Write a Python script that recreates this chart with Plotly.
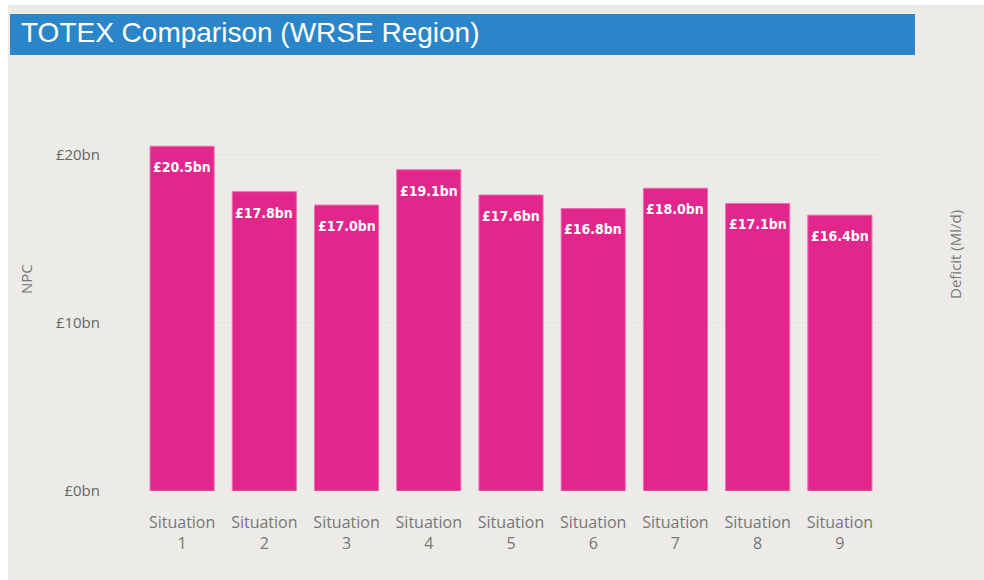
import plotly.graph_objects as go

categories = ["Situation<br>1", "Situation<br>2", "Situation<br>3", "Situation<br>4",
              "Situation<br>5", "Situation<br>6", "Situation<br>7", "Situation<br>8",
              "Situation<br>9"]
npc_bn = [20.5, 17.8, 17.0, 19.1, 17.6, 16.8, 18.0, 17.1, 16.4]
y_ticks = [0, 10, 20]
y_tick_labels = ["£0bn", "£10bn", "£20bn"]

# figure sits at (8, 5) on the page; body margin set by post_script
OFFX, OFFY = 8, 5
W, H = 984 - OFFX, 580 - OFFY
L, R, T, B = 141 - OFFX, 103, 121 - OFFY, 89
PW, PH = W - L - R, H - T - B


def px_x(p):
    return (p - OFFX - L) / PW


def px_y(p):
    return (H - B - (p - OFFY)) / PH


fig = go.Figure()
fig.add_trace(go.Bar(
    x=categories, y=npc_bn,
    marker=dict(color="#E3268C", line=dict(color="#EC6FB2", width=1)),
    hoverinfo="x+y",
))

for c, v in zip(categories, npc_bn):
    fig.add_annotation(x=c, y=v, text=f"£{v:.1f}bn", showarrow=False,
                       yanchor="top", yshift=-11,
                       font=dict(family="DejaVu Sans Condensed", size=14,
                                 color="white", weight="bold"))

# title bar
fig.add_shape(type="rect", xref="paper", yref="paper",
              x0=px_x(10), x1=px_x(915), y0=px_y(55), y1=px_y(14),
              fillcolor="#2A86C8", line_width=0)
fig.add_annotation(xref="paper", yref="paper", x=px_x(19), y=px_y(32),
                   xanchor="left", yanchor="middle", showarrow=False,
                   text="TOTEX Comparison (WRSE Region)",
                   font=dict(family="Liberation Sans", size=28, color="white"))
fig.add_annotation(xref="paper", yref="paper", x=px_x(26), y=px_y(279),
                   xanchor="center", yanchor="middle",
                   textangle=-90, showarrow=False, text="NPC",
                   font=dict(family="Open Sans", size=15, color="#777777"))
fig.add_annotation(xref="paper", yref="paper", x=px_x(955), y=px_y(255),
                   xanchor="center", yanchor="middle",
                   textangle=-90, showarrow=False, text="Deficit (Ml/d)",
                   font=dict(family="Open Sans", size=15, color="#777777"))

fig.update_layout(
    width=W, height=H,
    margin=dict(l=L, r=R, t=T, b=B),
    paper_bgcolor="#ECEBE7", plot_bgcolor="#ECEBE7",
    bargap=0.22, showlegend=False,
    font=dict(family="Open Sans", color="#666666"),
)
fig.update_xaxes(showgrid=False, showline=False, zeroline=False,
                 tickfont=dict(size=16, color="#777777"), ticklabelstandoff=20)
fig.update_yaxes(range=[0, 22], tickvals=y_ticks, ticktext=y_tick_labels,
                 showgrid=True, gridcolor="#E5E4E0", zeroline=False,
                 tickfont=dict(size=15, color="#666666"), ticklabelstandoff=40)

fig.write_html("out.html", post_script=(
    "document.body.style.margin='5px 0 0 8px';"
    "document.documentElement.style.overflow='hidden';"
    "document.body.style.background='white';"
))
